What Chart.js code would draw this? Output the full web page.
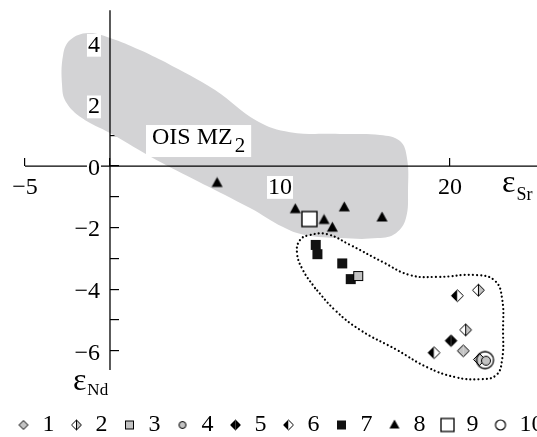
<!DOCTYPE html>
<html><head><meta charset="utf-8">
<script src="https://cdn.jsdelivr.net/npm/chart.js@4/dist/chart.umd.min.js"></script>
<style>
html,body{margin:0;padding:0;overflow:hidden;background:#fff;width:537px;height:437px}
#wrap{position:absolute;left:0;top:0;width:560px;height:437px}
</style>
</head><body>
<div id="wrap"><canvas id="c" width="560" height="437"></canvas></div>
<script>
// ---------- data (εSr, εNd) ----------
const seriesNames = ['1','2','3','4','5','6','7','8','9','10'];
const s1 = [{x:20.78,y:-6.0},{x:21.73,y:-6.28}];
const s2 = [{x:21.67,y:-4.03},{x:20.92,y:-5.32}];
const s3 = [{x:14.6,y:-3.57}];
const s4 = [{x:22.12,y:-6.32}];
const s5 = [{x:20.06,y:-5.67}];
const s6 = [{x:20.43,y:-4.21},{x:19.06,y:-6.06}];
const s7 = [{x:12.1,y:-2.56},{x:12.2,y:-2.86},{x:13.66,y:-3.16},{x:14.16,y:-3.67}];
const s8 = [{x:6.3,y:-0.55},{x:10.9,y:-1.4},{x:13.78,y:-1.34},{x:16.0,y:-1.67},{x:12.59,y:-1.75},{x:13.08,y:-2.0}];
const s9 = [{x:11.73,y:-1.72}];
const s10 = [{x:22.06,y:-6.3}];

// OIS MZ2 field outline (εSr, εNd)
const fieldOIS = [
  {x:3.24,y:3.38},{x:6.18,y:2.47},{x:8.65,y:1.46},{x:10.59,y:1.10},{x:13.53,y:1.04},
  {x:15.88,y:1.01},{x:17.06,y:0.81},{x:17.47,y:0.26},{x:17.53,y:-0.78},{x:17.41,y:-1.69},
  {x:16.82,y:-2.18},{x:15.76,y:-2.34},{x:13.53,y:-2.34},{x:11.47,y:-2.24},{x:10.18,y:-1.98},
  {x:8.24,y:-1.36},{x:2.76,y:0.19},{x:0,y:1.07},{x:-1.65,y:1.56},{x:-2.59,y:2.08},
  {x:-2.82,y:2.63},{x:-2.76,y:3.6},{x:-2.35,y:4.09},{x:-1.29,y:4.32},{x:0,y:4.16},
  {x:1.76,y:3.77},{x:3.24,y:3.38}
];
// dotted field outline
const fieldDotted = [
  {x:12.06,y:-3.96},{x:11.35,y:-3.38},{x:11.0,y:-2.82},{x:11.18,y:-2.40},{x:11.76,y:-2.24},
  {x:12.76,y:-2.21},{x:14.12,y:-2.56},{x:16.06,y:-3.12},{x:17.65,y:-3.54},{x:19.24,y:-3.60},
  {x:21.59,y:-3.54},{x:22.65,y:-3.73},{x:23.06,y:-4.29},{x:23.12,y:-5.32},{x:23.06,y:-6.30},
  {x:22.71,y:-6.79},{x:21.76,y:-6.92},{x:20.29,y:-6.85},{x:18.65,y:-6.53},{x:16.88,y:-5.97},
  {x:14.71,y:-5.32},{x:13.24,y:-4.68},{x:12.06,y:-3.96}
];
// axes lines
const xAxisLine = [{x:-5,y:0},{x:27,y:0}];
const yAxisLine = [{x:0,y:-6.62},{x:0,y:5.06}];

// ticks
const xTickValues = [-5,0,5,10,15,20];
const xLabelValues = [-5,10,20];
const xLabelTexts = ['\u22125','10','20'];
const yTickValues = [-6,-5,-4,-3,-2,-1,0,1,2,3,4];
const yLabelValues = [-6,-4,-2,0,2,4];
const yLabelTexts = ['\u22126','\u22124','\u22122','0','2','4'];

// ---------- markers ----------
const GRAY = '#c3c3c3';
function canvasOf(w,h,fn){const c=document.createElement('canvas');c.width=w;c.height=h;const g=c.getContext('2d');fn(g,w/2,h/2);return c;}
function diamondMarker(r,left,right,vline,lw){
  const s=Math.ceil(2*r+3);
  return canvasOf(s,s,(g,cx,cy)=>{
    g.beginPath();g.moveTo(cx,cy-r);g.lineTo(cx-r,cy);g.lineTo(cx,cy+r);g.closePath();g.fillStyle=left;g.fill();
    g.beginPath();g.moveTo(cx,cy-r);g.lineTo(cx+r,cy);g.lineTo(cx,cy+r);g.closePath();g.fillStyle=right;g.fill();
    g.beginPath();g.moveTo(cx,cy-r);g.lineTo(cx+r,cy);g.lineTo(cx,cy+r);g.lineTo(cx-r,cy);g.closePath();
    g.lineWidth=lw;g.strokeStyle='#000';g.lineJoin='miter';g.stroke();
    if(vline){g.beginPath();g.moveTo(cx,cy-r);g.lineTo(cx,cy+r);g.stroke();}
  });
}
function squareMarker(a,fill,lw){
  const s=Math.ceil(a+lw+2);
  return canvasOf(s,s,(g,cx,cy)=>{
    g.fillStyle=fill;g.fillRect(cx-a/2,cy-a/2,a,a);
    if(lw){g.lineWidth=lw;g.strokeStyle='#000';g.strokeRect(cx-a/2,cy-a/2,a,a);}
  });
}
function triangleMarker(w,h){
  const s=Math.ceil(Math.max(w,h)+2);
  return canvasOf(s,s,(g,cx,cy)=>{
    g.beginPath();g.moveTo(cx,cy-h*0.6);g.lineTo(cx+w/2,cy+h*0.4);g.lineTo(cx-w/2,cy+h*0.4);g.closePath();
    g.fillStyle='#000';g.fill();
  });
}
function circleMarker(r,fill,lw){
  const s=Math.ceil(2*r+lw+2);
  return canvasOf(s,s,(g,cx,cy)=>{
    g.beginPath();g.arc(cx,cy,r,0,Math.PI*2);
    if(fill){g.fillStyle=fill;g.fill();}
    g.lineWidth=lw;g.strokeStyle='#000';g.stroke();
  });
}
const chartMarkers = [
  diamondMarker(6,GRAY,GRAY,false,1),
  diamondMarker(6,'#fff',GRAY,true,1),
  squareMarker(9,GRAY,1),
  circleMarker(4.5,GRAY,1),
  diamondMarker(5.8,'#000','#000',false,1),
  diamondMarker(6,'#000','#fff',false,1),
  squareMarker(10,'#111',0),
  triangleMarker(11,10),
  squareMarker(15,'#fff',1.4),
  circleMarker(8.5,null,1.3)
];
const legendMarkers = [
  diamondMarker(4.5,GRAY,GRAY,false,1),
  diamondMarker(5,'#fff',GRAY,true,1),
  squareMarker(8,GRAY,1),
  circleMarker(3.5,GRAY,1),
  diamondMarker(5,'#000','#000',false,1),
  diamondMarker(5,'#000','#fff',false,1),
  squareMarker(9,'#111',0),
  triangleMarker(10,9),
  squareMarker(13,'#fff',1.3),
  circleMarker(5,null,1.2)
];

const pointSeries = [s1,s2,s3,s4,s5,s6,s7,s8,s9,s10];
const drawOrder = [7,6,8,2,5,4,1,0,3,9]; // later = drawn on top

const datasets = [];
pointSeries.forEach((data,i)=>{
  datasets.push({
    type:'scatter', label:seriesNames[i], data:data,
    pointStyle:chartMarkers[i], pointRadius:6, pointHoverRadius:6,
    order: 10 - drawOrder.indexOf(i), showLine:false
  });
});
datasets.push({type:'line',label:'axisX',data:xAxisLine,borderColor:'#000',borderWidth:1.3,pointRadius:0,fill:false,order:30,tension:0});
datasets.push({type:'line',label:'axisY',data:yAxisLine,borderColor:'#000',borderWidth:1.3,pointRadius:0,fill:false,order:31,tension:0});
datasets.push({type:'line',label:'dotted',data:fieldDotted,borderColor:'#000',borderWidth:2.2,borderDash:[0.01,4.1],borderCapStyle:'round',pointRadius:0,fill:false,tension:0.45,order:40});
datasets.push({type:'line',label:'OIS',data:fieldOIS,borderWidth:0,borderColor:'rgba(0,0,0,0)',backgroundColor:'rgb(211,211,213)',pointRadius:0,fill:'shape',tension:0.4,order:50});

const X_MIN=-6.47, X_MAX=26.47, Y_MIN=-7.53, Y_MAX=5.39, Y_LABEL_SHIFT=0.08;
const SERIF='"Liberation Serif", "Times New Roman", serif';
const noPad = s=>{s.paddingTop=0;s.paddingBottom=0;s.paddingLeft=0;s.paddingRight=0;};

const annot = {
  id:'annot',
  afterDatasetsDraw(chart){
    const g=chart.ctx, xs=chart.scales.x, ys=chart.scales.y;
    g.save();
    g.fillStyle='#000';g.textBaseline='alphabetic';g.textAlign='left';
    // OIS MZ2 label
    const lx=xs.getPixelForValue(2.47), ly=ys.getPixelForValue(0)-22;
    g.font='24px '+SERIF;
    const w1=g.measureText('OIS MZ').width;
    g.font='21px '+SERIF;
    const w2=g.measureText('2').width;
    g.fillStyle='#fff';g.fillRect(lx-6,ly-19,w1+w2+14,32);
    g.fillStyle='#000';
    g.font='24px '+SERIF;g.fillText('OIS MZ',lx,ly);
    g.font='21px '+SERIF;g.fillText('2',lx+w1+2,ly+8);
    // εSr
    const ex=xs.getPixelForValue(23.06), ey=ys.getPixelForValue(0);
    g.font='32px '+SERIF;g.fillText('\u03b5',ex,ey+26);
    const we=g.measureText('\u03b5').width;
    g.font='18px '+SERIF;g.fillText('Sr',ex+we+1,ey+34);
    // εNd
    const nx=xs.getPixelForValue(-2.18), ny=ys.getPixelForValue(-6.62);
    g.font='32px '+SERIF;g.fillText('\u03b5',nx,ny+20);
    const wn=g.measureText('\u03b5').width;
    g.font='17px '+SERIF;g.fillText('Nd',nx+wn+1,ny+25);
    g.restore();
  }
};

new Chart(document.getElementById('c'),{
  type:'scatter',
  data:{datasets},
  plugins:[annot],
  options:{
    responsive:false, animation:false, events:[],
    layout:{autoPadding:false,padding:{top:0,left:0,right:0,bottom:-10}},
    plugins:{
      tooltip:{enabled:false},
      legend:{
        position:'bottom', align:'center',
        labels:{
          usePointStyle:true, pointStyleWidth:14, padding:15,
          font:{family:SERIF,size:24}, color:'#000',
          generateLabels:()=>seriesNames.map((n,i)=>({text:n,pointStyle:legendMarkers[i],fillStyle:'#000',strokeStyle:'#000',lineWidth:0,hidden:false,datasetIndex:i,fontColor:'#000'}))
        }
      }
    },
    scales:{
      x:{type:'linear',min:X_MIN,max:X_MAX,position:{y:0},
        border:{display:false},
        grid:{display:true,drawOnChartArea:false,drawTicks:true,tickLength:-8,color:'#000',lineWidth:1.2},
        ticks:{display:false},
        afterBuildTicks:s=>{s.ticks=xTickValues.map(v=>({value:v}));},
        afterFit:noPad
      },
      xl:{type:'linear',axis:'x',min:X_MIN,max:X_MAX,position:{y:0},
        border:{display:false},
        grid:{display:false,drawTicks:false},
        ticks:{z:1,padding:7,font:{family:SERIF,size:24},color:'#000',maxRotation:0,autoSkip:false,
          showLabelBackdrop:true,backdropColor:'#fff',backdropPadding:{left:1,right:1,top:-3,bottom:-3},
          callback:(v,i)=>xLabelTexts[i]},
        afterBuildTicks:s=>{s.ticks=xLabelValues.map(v=>({value:v}));},
        afterFit:noPad
      },
      y:{type:'linear',min:Y_MIN,max:Y_MAX,position:{x:0},
        border:{display:false},
        grid:{display:true,drawOnChartArea:false,drawTicks:true,tickLength:-9,color:'#000',lineWidth:1.2},
        ticks:{display:false},
        afterBuildTicks:s=>{s.ticks=yTickValues.map(v=>({value:v}));},
        afterFit:noPad
      },
      yl:{type:'linear',axis:'y',min:Y_MIN+Y_LABEL_SHIFT,max:Y_MAX+Y_LABEL_SHIFT,position:{x:-0.59},
        border:{display:false},
        grid:{display:false,drawTicks:false},
        ticks:{z:1,padding:0,font:{family:SERIF,size:24},color:'#000',autoSkip:false,
          showLabelBackdrop:true,backdropColor:'#fff',backdropPadding:{left:1,right:1,top:-3,bottom:-3},
          callback:(v,i)=>yLabelTexts[i]},
        afterBuildTicks:s=>{s.ticks=yLabelValues.map(v=>({value:v}));},
        afterFit:noPad
      }
    }
  }
});
</script>
</body></html>
